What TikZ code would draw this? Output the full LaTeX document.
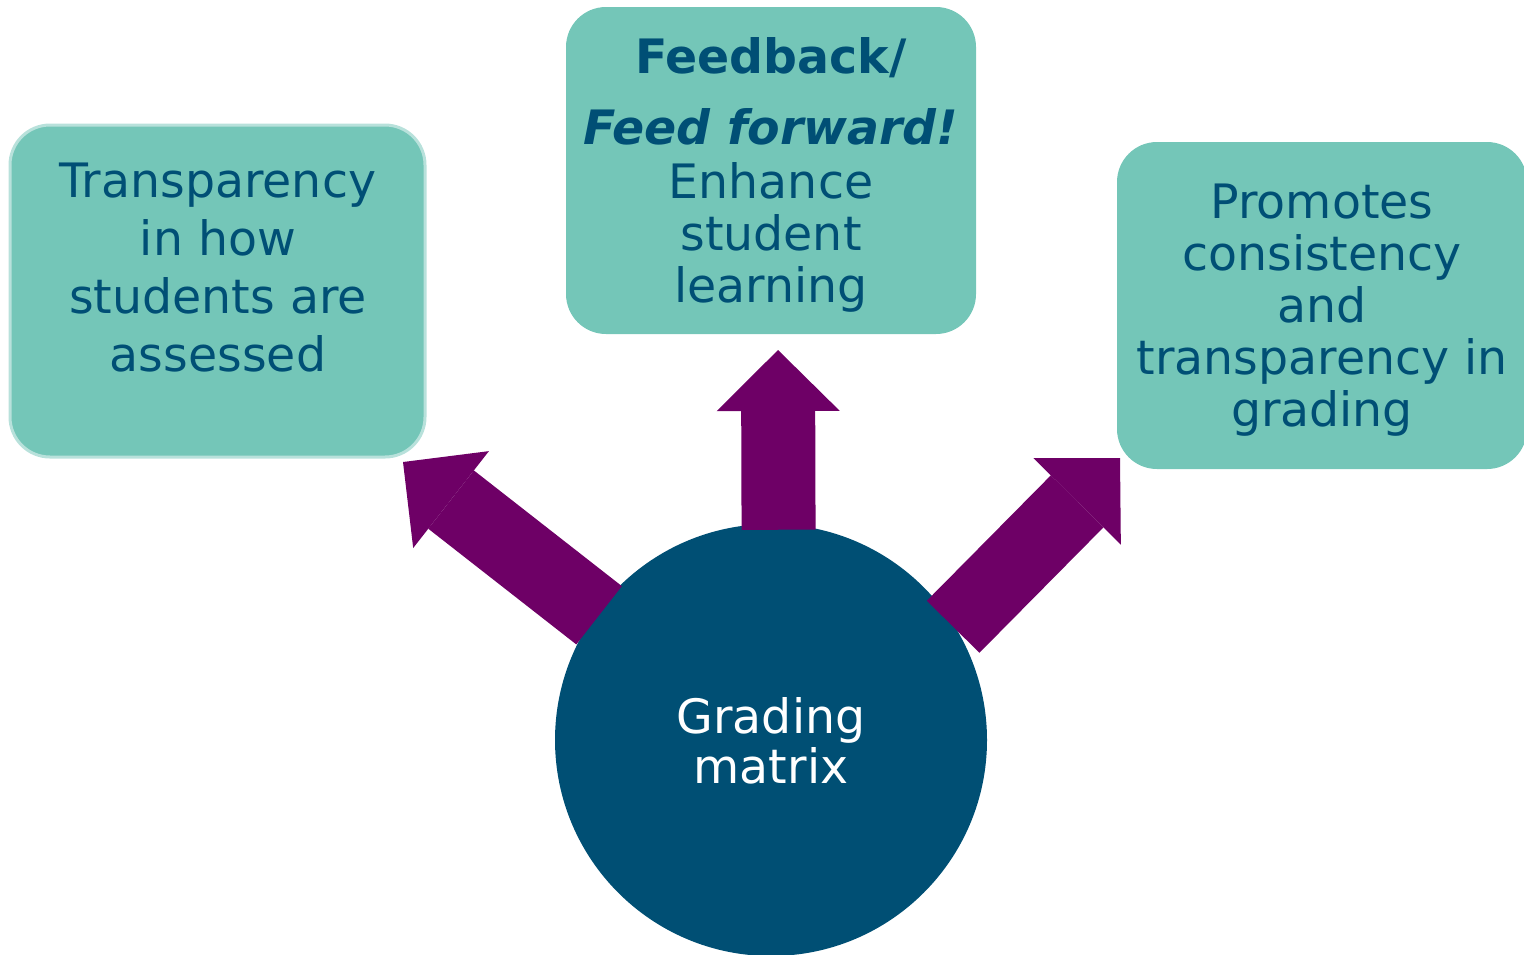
\documentclass[tikz,border=0pt]{standalone}
\usepackage{fontspec}
\setmainfont{DejaVu Sans}
\usetikzlibrary{arrows.meta}

\definecolor{boxteal}{RGB}{116,198,184}
\definecolor{boxedge}{RGB}{184,225,219}
\definecolor{inkblue}{RGB}{0,79,117}
\definecolor{hubblue}{RGB}{0,79,116}
\definecolor{plum}{RGB}{110,0,102}

\begin{document}
\begin{tikzpicture}[x=0.5pt,y=-0.5pt,
        box/.style={fill=boxteal, rounded corners=20pt, inner sep=0pt,
            minimum width=205pt, minimum height=163.5pt},
        boxtext/.style={text=inkblue, align=center, anchor=base, inner sep=0pt,
            font=\fontsize{23.7}{26}\selectfont},
        bigarrow/.style={draw=plum, line width=37pt,
            -{Triangle[width=61.5pt, length=30.5pt, line width=0pt]}}]
    \useasboundingbox (0,0) rectangle (1524,954);

    % boxes
    \node[box, draw=boxedge, line width=1.5pt, minimum width=207.5pt, minimum height=166pt] (transp) at (217.5,291) {};
    \node[box] (feedback) at (771,170.5) {};
    \node[box] (consist) at (1322,305.5) {};

    % texts sit on the baseline of their last line
    \node[boxtext, font=\fontsize{23.7}{29}\selectfont] (transptxt) at (218,371)
        {Transparency\\in how\\students are\\assessed};
    \node[boxtext] (feedbacktxt) at (771,302)
        {\textbf{Feedback/}\\[9.5pt]\textbf{\textit{Feed forward!}}\\[1pt]Enhance\\student\\learning};
    \node[boxtext] (consisttxt) at (1322,426)
        {Promotes\\consistency\\and\\transparency in\\grading};

    % centre circle
    \node[circle, fill=hubblue, minimum size=216pt, inner sep=0pt] (hub) at (771,740) {};
    \node[boxtext, text=white, font=\fontsize{23.7}{25}\selectfont] (hubtxt) at (771,783) {Grading\\matrix};

    % arrow tips
    \coordinate (tipL) at (403,462);
    \coordinate (tipM) at (778,350);
    \coordinate (tipR) at (1120,458);

    \draw[bigarrow, shorten <=-2pt] (hub.144) -- (tipL);
    \draw[bigarrow, shorten <=-3pt] (hub.88) -- (tipM);
    \draw[bigarrow, shorten <=-1pt] (hub.32) -- (tipR);
\end{tikzpicture}
\end{document}
